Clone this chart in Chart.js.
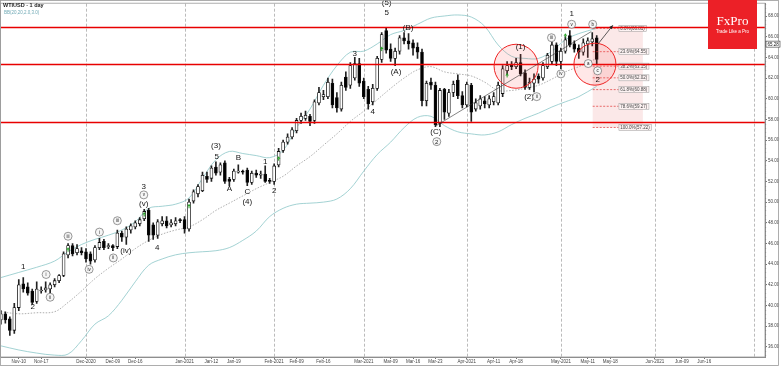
<!DOCTYPE html>
<html>
<head>
<meta charset="utf-8">
<script src="https://cdn.jsdelivr.net/npm/chart.js@4.4.0/dist/chart.umd.min.js"></script>
<style>
  html, body { margin: 0; padding: 0; background: #fff; }
  #wrap { width: 782px; height: 366px; }
</style>
</head>
<body>
<div id="wrap"><canvas id="chart" width="782" height="366"></canvas></div>
<script>
// bar index 0 = 1 Dec 2020, one slot per trading day
const firstBar = -19;

const opens = [
  38.6, 39.2, 38.7, 37.6, 39.8, 42.1, 41.8, 41.4, 40.4, 41.4, 41.5, 41.6, 42.0, 42.4, 42.9, 44.9, 45.8, 45.1, 45.3,
  45.2, 45.0, 44.4, 45.6, 46.2, 45.7, 45.8, 45.7, 47.0, 46.6, 47.3, 47.6, 47.9, 48.4, 49.2, 47.8, 46.8, 47.9, 48.2, 47.8, 47.9, 48.3,
  48.3, 47.4, 50.1, 50.8, 51.1, 52.5, 52.3, 53.4, 52.9, 53.8, 52.2, 52.2, 52.9, 53.0, 53.1, 51.9, 52.8, 52.6, 52.7, 52.1,
  52.0, 53.6, 55.0, 55.8, 56.3, 56.9, 57.9, 58.1, 58.3, 57.9, 59.6, 60.2, 60.2, 61.5, 60.1, 59.0, 62.1, 61.3, 62.0, 63.4,
  61.7, 60.9, 59.7, 61.0, 63.8, 66.6, 64.8, 63.9, 64.6, 65.9, 65.6, 65.4, 65.0, 64.5, 59.8, 61.6, 61.3, 57.6, 60.9, 58.6, 60.6, 61.8, 60.3,
  59.4, 61.3, 59.0, 59.3, 59.8, 59.4, 59.7, 59.6, 60.5, 62.7, 63.3, 63.1, 63.5, 62.5, 61.1, 61.5, 62.2, 62.0, 63.1, 63.6, 65.2,
  63.6, 64.6, 66.1, 65.3, 64.9, 64.5, 65.3, 65.5, 65.9
];
const highs = [
  39.5, 39.4, 38.9, 40.2, 42.5, 42.7, 42.2, 41.6, 42.3, 41.8, 42.3, 42.2, 42.6, 43.0, 45.2, 46.0, 46.0, 45.9, 45.6,
  45.5, 45.2, 45.8, 46.5, 46.4, 46.0, 45.9, 47.3, 47.2, 47.6, 47.9, 48.2, 48.5, 49.3, 49.4, 48.0, 48.3, 48.6, 48.6, 48.3, 48.5, 48.4,
  48.6, 50.3, 51.2, 51.7, 52.9, 52.9, 53.5, 53.9, 53.8, 54.0, 52.4, 53.2, 53.6, 53.1, 53.3, 53.0, 53.1, 53.0, 53.5, 52.3,
  53.7, 55.2, 56.0, 56.6, 57.2, 58.1, 58.6, 58.8, 58.5, 59.9, 61.1, 60.8, 62.0, 61.9, 60.6, 61.6, 62.6, 63.5, 64.0, 63.9,
  62.0, 61.2, 61.4, 64.1, 66.4, 66.85, 65.3, 64.9, 66.1, 66.4, 66.3, 65.7, 65.4, 64.8, 61.7, 62.0, 61.6, 61.0, 61.0, 60.9, 61.7, 62.3, 60.7,
  61.6, 61.5, 60.0, 60.3, 60.2, 60.3, 60.6, 61.6, 63.2, 63.6, 63.6, 63.9, 64.3, 62.8, 62.0, 62.4, 62.4, 63.5, 64.4, 65.5, 65.4,
  64.9, 66.0, 66.6, 65.6, 65.2, 65.8, 65.9, 66.4, 66.1
];
const lows = [
  38.2, 38.3, 37.1, 37.3, 39.5, 41.3, 41.0, 40.1, 40.2, 41.2, 41.3, 41.2, 41.8, 42.2, 42.8, 44.6, 44.8, 44.9, 44.9,
  44.2, 44.0, 44.2, 45.4, 45.4, 45.5, 45.3, 45.5, 46.2, 45.9, 47.0, 47.4, 47.7, 48.2, 46.2, 46.4, 46.5, 47.7, 47.5, 47.6, 47.7, 48.0,
  47.0, 47.2, 49.9, 50.5, 51.0, 51.9, 52.0, 52.6, 52.6, 51.8, 51.6, 52.0, 52.8, 52.7, 51.6, 51.7, 52.4, 52.3, 51.9, 51.8,
  51.7, 53.4, 54.8, 55.6, 56.1, 56.7, 57.6, 57.9, 57.4, 57.6, 59.4, 59.9, 60.0, 59.1, 58.7, 58.8, 60.8, 61.0, 61.8, 61.2,
  60.0, 59.0, 59.4, 60.8, 63.5, 64.4, 63.6, 63.2, 64.3, 65.3, 64.8, 64.2, 63.9, 59.3, 59.3, 60.9, 57.3, 57.3, 58.0, 58.3, 60.2, 60.0, 59.1,
  59.2, 57.8, 58.8, 59.0, 59.1, 59.1, 59.4, 59.4, 60.2, 62.3, 62.8, 62.9, 62.2, 60.9, 60.9, 60.65, 61.5, 61.8, 62.9, 63.4, 63.2,
  62.9, 64.4, 65.0, 64.5, 63.9, 64.2, 64.0, 65.1, 63.4
];
const closes = [
  39.2, 38.6, 37.6, 39.8, 42.0, 41.6, 41.2, 40.3, 41.6, 41.5, 41.7, 42.0, 42.4, 42.9, 45.0, 45.8, 45.0, 45.5, 45.1,
  44.5, 44.3, 45.6, 46.1, 45.6, 45.8, 45.6, 47.0, 46.6, 47.4, 47.7, 48.0, 48.3, 49.1, 46.8, 46.8, 48.1, 48.2, 47.7, 48.0, 48.2, 48.2,
  47.4, 50.0, 51.0, 51.5, 52.6, 52.2, 53.3, 52.8, 53.6, 52.0, 52.0, 53.0, 53.0, 52.9, 51.9, 52.8, 52.6, 52.7, 52.0, 52.0,
  53.5, 54.9, 55.8, 56.3, 57.0, 57.9, 58.3, 58.4, 57.8, 59.7, 60.6, 60.4, 61.6, 59.4, 59.1, 61.3, 61.1, 63.2, 63.4, 61.5,
  60.2, 59.5, 61.0, 63.9, 66.2, 64.7, 63.9, 64.6, 65.9, 65.6, 65.3, 64.9, 64.5, 59.8, 61.5, 61.3, 57.5, 60.8, 58.7, 60.6, 61.4, 60.3, 59.4,
  61.4, 58.7, 59.6, 60.0, 59.5, 60.0, 60.2, 61.3, 62.9, 63.2, 63.1, 63.5, 62.4, 61.1, 61.6, 61.9, 61.9, 63.2, 64.2, 65.2, 63.6,
  64.6, 65.7, 65.2, 64.8, 64.5, 65.4, 65.6, 65.8, 63.8
];

// Bollinger bands
const bbBars   = [-19, -15, -11, -7, -4, -1, 2, 5, 8, 11, 14, 17, 20, 23, 26, 29, 32, 35, 38, 41, 44, 47, 50, 53, 56, 59, 62, 65, 68, 71, 74, 77, 80, 83, 86, 89, 92, 95, 98, 101, 104, 107, 110, 114];
const bbUpper  = [42.7, 43.2, 43.7, 44.3, 45.2, 45.9, 46.4, 46.8, 47.3, 48.1, 49.4, 49.6, 49.8, 50.4, 52.3, 54.1, 54.9, 54.7, 54.5, 54.3, 55.0, 57.2, 59.0, 61.3, 63.2, 64.5, 64.6, 65.3, 66.2, 66.6, 67.2, 67.8, 68.0, 68.1, 67.9, 67.0, 65.2, 64.1, 63.9, 63.9, 64.6, 65.7, 66.3, 66.8];
const bbMiddle = [39.4, 39.2, 39.3, 39.4, 40.3, 41.4, 42.6, 43.6, 44.5, 45.5, 46.3, 46.9, 47.3, 47.6, 48.3, 49.2, 49.9, 50.6, 51.3, 51.9, 52.5, 53.5, 54.4, 55.5, 56.6, 57.8, 58.8, 59.9, 61.0, 62.0, 62.8, 63.1, 62.6, 62.4, 62.2, 61.6, 60.8, 60.8, 61.0, 61.3, 61.9, 62.6, 63.1, 63.9];
const bbLower  = [36.1, 35.7, 35.4, 35.2, 35.3, 36.6, 38.2, 39.0, 40.5, 42.3, 43.9, 44.5, 44.9, 45.1, 45.2, 45.3, 45.6, 46.3, 47.2, 48.6, 49.4, 49.8, 49.9, 50.0, 50.3, 51.3, 53.0, 54.6, 55.8, 57.2, 58.2, 58.3, 57.4, 56.8, 56.6, 56.5, 56.8, 57.5, 58.1, 58.6, 59.2, 59.7, 60.2, 61.2];

const xTickBars = [-15, -10, 0, 6, 11, 22, 28, 33, 42, 47, 53, 62, 68, 73, 78, 85, 91, 96, 106, 112, 117, 127, 133, 138];
const xTickLabels = ['Nov-10', 'Nov-17', 'Dec-2020', 'Dec-09', 'Dec-16', 'Jan-2021', 'Jan-12', 'Jan-19', 'Feb-2021', 'Feb-09', 'Feb-16',
  'Mar-2021', 'Mar-09', 'Mar-16', 'Mar-23', 'Apr-2021', 'Apr-11', 'Apr-18', 'May-2021', 'May-11', 'May-18', 'Jun-2021', 'Jun-09', 'Jun-16'];
const monthStarts = [0, 22, 42, 62, 85, 106, 127, 149];
const yTickValues = [36, 38, 40, 42, 44, 46, 48, 50, 52, 54, 56, 58, 60, 62, 64, 66, 68];

const redLevels = [66.89, 63.31, 57.70];
const fibPct = ['0.0', '23.6', '38.2', '50.0', '61.8', '78.6', '100.0'];
const fibLevels = [66.81, 64.55, 63.15, 62.02, 60.88, 59.27, 57.22];
const lastPrice = 65.28;

// wave count: text, bar, price, circled
const waveLabels = [
  ['1', -14, 43.7, 0], ['2', -11.9, 39.85, 0], ['i', -8.9, 43.0, 1], ['ii', -8, 40.8, 1],
  ['iii', -4, 46.7, 1], ['iv', 0.7, 43.5, 1], ['i', 3, 47.1, 1], ['ii', 6.1, 44.6, 1], ['iii', 7, 48.2, 1],
  ['(iv)', 8.9, 45.3, 0], ['3', 12.9, 51.5, 0], ['v', 12.9, 50.7, 1], ['(v)', 12.9, 49.8, 0], ['4', 15.9, 45.6, 0],
  ['(3)', 29, 55.4, 0], ['5', 29.2, 54.4, 0], ['A', 32, 51.3, 0], ['B', 34, 54.25, 0], ['C', 36, 51.0, 0],
  ['(4)', 36, 50.0, 0], ['1', 40, 53.9, 0], ['2', 42, 51.1, 0],
  ['3', 60, 64.3, 0], ['4', 64, 58.7, 0], ['5', 67.1, 68.3, 0], ['(5)', 67.1, 69.3, 0],
  ['(A)', 69.2, 62.6, 0], ['(B)', 71.9, 66.9, 0], ['(C)', 78.1, 56.8, 0], ['2', 78.3, 55.85, 1],
  ['(1)', 97, 65.0, 0], ['(2)', 98.9, 60.2, 0], ['ii', 100.6, 60.2, 1], ['iii', 103.9, 65.9, 1], ['iv', 106, 62.4, 1],
  ['1', 108.4, 68.2, 0], ['v', 108.4, 67.2, 1], ['b', 113.1, 67.2, 1], ['a', 112.1, 63.4, 1],
  ['c', 114.2, 62.7, 1], ['2', 114.2, 61.8, 0]
];
const signalBars = [-4, 13, 23, 43, 66, 94, 107];
const signalPrices = [45.4, 48.8, 49.6, 54.2, 64.8, 62.25, 66.1];
const focusBars = [96, 113.6];
const focusPrices = [63.14, 63.34];
const trendBars = [78, 112.8];
const trendPrices = [57.35, 66.5];
const arrowBars = [114.3, 117.6];
const arrowPrices = [65.3, 67.1];
const fibBars = [113.1, 118.9, 124.3];

const FONT = '"Liberation Sans", Arial, sans-serif';

const bodies = opens.map((o, i) => ({ x: firstBar + i, y: [o, closes[i]] }));
const wicks = opens.map((o, i) => ({ x: firstBar + i, y: [lows[i], highs[i]] }));
const bodyFill = opens.map((o, i) => closes[i] >= o ? '#ffffff' : '#000000');
const band = vals => bbBars.map((b, i) => ({ x: b, y: vals[i] }));

function seg(ctx, x1, y1, x2, y2) {
  ctx.beginPath();
  ctx.moveTo(x1, y1);
  ctx.lineTo(x2, y2);
  ctx.stroke();
}

const overlay = {
  id: 'overlay',
  beforeDatasetsDraw(chart) {
    const { ctx, chartArea: a, scales: { x, y } } = chart;
    ctx.save();
    // month separators
    ctx.strokeStyle = '#aaaaaa';
    ctx.lineWidth = 0.8;
    ctx.setLineDash([3, 2]);
    monthStarts.forEach(b => {
      const px = Math.round(x.getPixelForValue(b)) + 0.5;
      seg(ctx, px, a.top, px, a.bottom);
    });
    ctx.setLineDash([]);
    // fib zone
    const fx1 = x.getPixelForValue(fibBars[0]);
    const fx3 = x.getPixelForValue(fibBars[2]);
    const fyTop = y.getPixelForValue(fibLevels[0]);
    const fyBot = y.getPixelForValue(fibLevels[fibLevels.length - 1]);
    ctx.fillStyle = 'rgba(235, 130, 130, 0.18)';
    ctx.fillRect(fx1, fyTop, fx3 - fx1, fyBot - fyTop);
    ctx.restore();
  },
  afterDatasetsDraw(chart) {
    const { ctx, chartArea: a, scales: { x, y } } = chart;
    ctx.save();

    // fib levels
    const fx1 = x.getPixelForValue(fibBars[0]);
    const fx2 = x.getPixelForValue(fibBars[1]);
    ctx.strokeStyle = '#e03030';
    ctx.lineWidth = 0.7;
    ctx.setLineDash([2, 1.5]);
    fibLevels.forEach(v => {
      const py = y.getPixelForValue(v);
      seg(ctx, fx1, py, fx2, py);
    });
    ctx.setLineDash([]);
    ctx.font = '4.5px ' + FONT;
    ctx.textAlign = 'center';
    ctx.textBaseline = 'middle';
    fibLevels.forEach((v, i) => {
      const s = fibPct[i] + '%(' + v.toFixed(2) + ')';
      const py = y.getPixelForValue(v);
      const w = ctx.measureText(s).width + 3;
      ctx.fillStyle = '#fdf3f3';
      ctx.fillRect(fx2, py - 3, w, 6);
      ctx.strokeStyle = '#9a9a9a';
      ctx.lineWidth = 0.5;
      ctx.strokeRect(fx2 + 0.25, py - 3, w, 6);
      ctx.fillStyle = '#444';
      ctx.fillText(s, fx2 + w / 2, py + 0.3);
    });

    // horizontal levels
    ctx.strokeStyle = '#e80000';
    ctx.lineWidth = 1.6;
    redLevels.forEach(v => {
      const py = y.getPixelForValue(v);
      seg(ctx, a.left, py, a.right, py);
    });

    // focus circles
    const radius = [22, 21];
    focusBars.forEach((b, i) => {
      ctx.beginPath();
      ctx.arc(x.getPixelForValue(b), y.getPixelForValue(focusPrices[i]), radius[i], 0, Math.PI * 2);
      ctx.fillStyle = 'rgba(255, 70, 70, 0.13)';
      ctx.fill();
      ctx.strokeStyle = '#ee2222';
      ctx.lineWidth = 1;
      ctx.stroke();
    });

    // trend line and arrow
    ctx.strokeStyle = '#333';
    ctx.lineWidth = 0.6;
    seg(ctx, x.getPixelForValue(trendBars[0]), y.getPixelForValue(trendPrices[0]),
      x.getPixelForValue(trendBars[1]), y.getPixelForValue(trendPrices[1]));
    const ax1 = x.getPixelForValue(arrowBars[0]), ay1 = y.getPixelForValue(arrowPrices[0]);
    const ax2 = x.getPixelForValue(arrowBars[1]), ay2 = y.getPixelForValue(arrowPrices[1]);
    ctx.lineWidth = 0.8;
    seg(ctx, ax1, ay1, ax2, ay2);
    const ang = Math.atan2(ay2 - ay1, ax2 - ax1);
    ctx.beginPath();
    ctx.moveTo(ax2, ay2);
    ctx.lineTo(ax2 - 4 * Math.cos(ang - 0.45), ay2 - 4 * Math.sin(ang - 0.45));
    ctx.lineTo(ax2 - 4 * Math.cos(ang + 0.45), ay2 - 4 * Math.sin(ang + 0.45));
    ctx.closePath();
    ctx.fillStyle = '#222';
    ctx.fill();

    // buy signals
    ctx.fillStyle = '#27a327';
    signalBars.forEach((b, i) => {
      const px = x.getPixelForValue(b), py = y.getPixelForValue(signalPrices[i]);
      ctx.beginPath();
      ctx.moveTo(px, py - 2.5);
      ctx.lineTo(px - 1.8, py);
      ctx.lineTo(px + 1.8, py);
      ctx.closePath();
      ctx.fill();
      ctx.fillRect(px - 0.5, py, 1, 2);
    });

    // wave labels
    ctx.textAlign = 'center';
    ctx.textBaseline = 'middle';
    waveLabels.forEach(([t, b, v, c]) => {
      const px = x.getPixelForValue(b), py = y.getPixelForValue(v);
      if (c) {
        ctx.beginPath();
        ctx.arc(px, py, 4, 0, Math.PI * 2);
        ctx.fillStyle = '#f6f6f6';
        ctx.fill();
        ctx.strokeStyle = '#555';
        ctx.lineWidth = 0.6;
        ctx.stroke();
        ctx.fillStyle = '#222';
        ctx.font = (t === '2' ? '6px ' : '4.5px ') + FONT;
        ctx.fillText(t, px, py + 0.3);
      } else {
        ctx.fillStyle = '#151515';
        ctx.font = '8px ' + FONT;
        ctx.fillText(t, px, py);
      }
    });
    ctx.restore();
  },
  afterDraw(chart) {
    const { ctx, chartArea: a, scales: { y } } = chart;
    ctx.save();
    // frames
    ctx.strokeStyle = '#999';
    ctx.lineWidth = 0.8;
    ctx.strokeRect(0.5, 0.5, 778, 365);
    ctx.strokeRect(a.left - 0.5, a.top - 0.5, a.right - a.left + 0.5, a.bottom - a.top + 0.5);

    // minor ticks on price axis
    ctx.strokeStyle = '#777';
    ctx.lineWidth = 0.5;
    for (let v = 35.2; v < 69.2; v += 0.4) {
      const py = Math.round(y.getPixelForValue(v)) + 0.5;
      seg(ctx, a.right, py, a.right + 1.2, py);
    }

    // last price tag
    const ly = y.getPixelForValue(lastPrice);
    ctx.fillStyle = '#fff';
    ctx.fillRect(a.right + 1, ly - 3, 14, 6);
    ctx.strokeStyle = '#333';
    ctx.lineWidth = 0.6;
    ctx.strokeRect(a.right + 1, ly - 3, 14, 6);
    ctx.fillStyle = '#111';
    ctx.font = '4.5px ' + FONT;
    ctx.textAlign = 'left';
    ctx.textBaseline = 'middle';
    ctx.fillText(lastPrice.toFixed(2), a.right + 2.5, ly + 0.3);

    // titles
    ctx.fillStyle = '#222';
    ctx.font = 'bold 5.5px ' + FONT;
    ctx.fillText('WTIUSD - 1 day', 3, 5.5);
    ctx.fillStyle = '#6fa9b5';
    ctx.font = '4.5px ' + FONT;
    ctx.fillText('BB(20,20,2.0,3.0)', 4, 12.5);

    // logo
    ctx.fillStyle = '#ec2027';
    ctx.fillRect(708, 0, 49, 49);
    ctx.fillStyle = '#fff';
    ctx.textAlign = 'center';
    ctx.font = '13px "Liberation Serif", "Times New Roman", serif';
    ctx.fillText('FxPro', 732.5, 22);
    ctx.font = '4.5px ' + FONT;
    ctx.fillText('Trade Like a Pro', 732.5, 32);
    ctx.restore();
  }
};

new Chart(document.getElementById('chart'), {
  type: 'bar',
  data: {
    datasets: [
      { type: 'line', data: band(bbUpper), borderColor: '#8cc6c8', borderWidth: 0.8, pointRadius: 0, tension: 0.35, order: 3 },
      { type: 'line', data: band(bbMiddle), borderColor: '#9a9a9a', borderWidth: 0.8, borderDash: [1.5, 1.5], pointRadius: 0, tension: 0.35, order: 3 },
      { type: 'line', data: band(bbLower), borderColor: '#8cc6c8', borderWidth: 0.8, pointRadius: 0, tension: 0.35, order: 3 },
      { data: wicks, backgroundColor: '#222', barThickness: 1, grouped: false, order: 2 },
      { data: bodies, backgroundColor: bodyFill, borderColor: '#111', borderWidth: 0.8, borderSkipped: false,
        barThickness: 3, minBarLength: 1, grouped: false, order: 1 }
    ]
  },
  options: {
    responsive: false,
    animation: false,
    events: [],
    layout: { padding: { left: 1, top: 1, right: 0, bottom: 0 } },
    plugins: { legend: { display: false }, tooltip: { enabled: false } },
    scales: {
      x: {
        type: 'linear',
        min: -18.97,
        max: 151.56,
        offset: false,
        grid: { drawOnChartArea: false, tickLength: 2, color: '#777', offset: false },
        border: { color: '#888' },
        ticks: {
          autoSkip: false, maxRotation: 0, minRotation: 0, padding: 0,
          color: '#444', font: { family: 'Liberation Sans', size: 4.5 },
          callback: (v, i) => xTickLabels[i]
        },
        afterBuildTicks: s => { s.ticks = xTickBars.map(v => ({ value: v })); },
        afterFit: s => { s.height = 9; }
      },
      y: {
        position: 'right',
        min: 35.02,
        max: 69.19,
        grid: { drawOnChartArea: false, tickLength: 2, color: '#777' },
        border: { color: '#888' },
        ticks: {
          padding: 1, color: '#444', font: { family: 'Liberation Sans', size: 4.5 },
          callback: v => Number(v).toFixed(2)
        },
        afterBuildTicks: s => { s.ticks = yTickValues.map(v => ({ value: v })); },
        afterFit: s => { s.width = 17; }
      }
    }
  },
  plugins: [overlay]
});
</script>
</body>
</html>
